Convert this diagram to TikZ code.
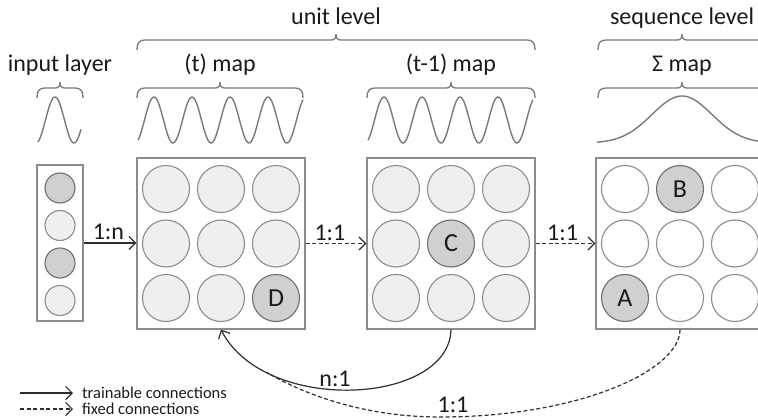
\documentclass[tikz,border=0pt]{standalone}
\usepackage{fontspec}
\setmainfont{Carlito}
\usetikzlibrary{arrows.meta}
\definecolor{linegray}{HTML}{8C8C8C}
\definecolor{lightfill}{HTML}{EFEFEF}
\definecolor{darkfill}{HTML}{D0D0D0}
\definecolor{darkedge}{HTML}{6E6E6E}
\definecolor{arrowcol}{HTML}{2E2E2E}
\definecolor{txt}{HTML}{1A1A1A}
\definecolor{wavecol}{HTML}{7A7A7A}
\newcommand\mybrace[4]{%
 \draw[bracket] (#1,#3+10) .. controls (#1,#3+3) and (#1+2,#3) .. (#1+8,#3) -- (#4-5,#3) .. controls (#4-1,#3) and (#4,#3-2) .. (#4,#3-6) .. controls (#4,#3-2) and (#4+1,#3) .. (#4+5,#3) -- (#2-8,#3) .. controls (#2-2,#3) and (#2,#3+3) .. (#2,#3+10);}
\begin{document}
\begin{tikzpicture}[x=1pt,y=-1pt,
  mapbox/.style={draw=linegray, line width=1.4pt, fill=white, minimum width=168pt, minimum height=171pt, inner sep=0pt},
  inbox/.style={draw=linegray, line width=1.4pt, fill=white, minimum width=46pt, minimum height=156pt, inner sep=0pt},
  cell/.style={circle, draw=linegray, line width=1.1pt, fill=lightfill, minimum size=47pt, inner sep=0pt, font=\fontsize{26}{26}\selectfont, text=txt},
  cellw/.style={cell, fill=white},
  celld/.style={cell, fill=darkfill, draw=darkedge},
  incell/.style={cell, minimum size=30pt},
  incelld/.style={celld, minimum size=30pt},
  trainconn/.style={draw=arrowcol, line width=1.2pt, -{Straight Barb[length=6.5pt,width=13pt]}},
  fixedconn/.style={trainconn, dash pattern=on 4pt off 2.5pt},
  lbl/.style={font=\fontsize{24}{24}\selectfont, text=txt, inner sep=2.5pt},
  headtext/.style={font=\fontsize{24}{24}\selectfont, text=txt, anchor=base, inner sep=0pt},
  legtext/.style={font=\fontsize{16.5}{16.5}\selectfont, text=txt, anchor=west, inner sep=0pt},
  wavepath/.style={draw=wavecol, line width=1.4pt},
  bracket/.style={draw=wavecol, line width=1.3pt}
]
\useasboundingbox (0,0) rectangle (758,420);
\clip (0,0) rectangle (758,420);

% headings
\node[headtext] (hunit) at (336,25) {unit level};
\node[headtext] (hseq) at (682,25) {sequence level};
\node[headtext] (hin) at (60,72) {input layer};
\node[headtext] (ht) at (220,72) {(t) map};
\node[headtext] (ht1) at (451,72) {(t-1) map};
\node[headtext] (hs) at (682,72) {Σ map};

% braces
\mybrace{137}{535}{40}{336}
\mybrace{598}{766}{40}{682}
\mybrace{37}{83}{88}{60}
\mybrace{137}{303}{88}{220}
\mybrace{367}{535}{88}{451}
\mybrace{598}{766}{88}{682}

% waves
\draw[wavepath] plot[domain=38:81, samples=60, smooth] (\x, {120+23*cos((\x-36)/38*360)});
\draw[wavepath] plot[domain=138:303, samples=160, smooth] (\x, {120+23*cos((\x-135)/38*360)});
\draw[wavepath] plot[domain=368:533, samples=160, smooth] (\x, {120+23*cos((\x-365)/38*360)});
\draw[wavepath] plot[domain=597:758, samples=100, smooth] (\x, {143-47*exp(-0.5*((\x-682)/30)^2)});

% boxes
\node[inbox] (inbox) at (60,243) {};
\node[mapbox] (tbox) at (221,243.5) {};
\node[mapbox] (t1box) at (451,243.5) {};
\node[mapbox] (sbox) at (680,243.5) {};

% input cells
\node[incelld] (i1) at (60,188) {};
\node[incell] (i2) at (60,225.5) {};
\node[incelld] (i3) at (60,263) {};
\node[incell] (i4) at (60,300.5) {};

% (t) map cells
\node[cell] (t11) at (166,189) {};
\node[cell] (t12) at (221,189) {};
\node[cell] (t13) at (276,189) {};
\node[cell] (t21) at (166,243.5) {};
\node[cell] (t22) at (221,243.5) {};
\node[cell] (t23) at (276,243.5) {};
\node[cell] (t31) at (166,298) {};
\node[cell] (t32) at (221,298) {};
\node[celld] (t33) at (276,298) {D};

% (t-1) map cells
\node[cell] (u11) at (396,189) {};
\node[cell] (u12) at (451,189) {};
\node[cell] (u13) at (506,189) {};
\node[cell] (u21) at (396,243.5) {};
\node[celld] (u22) at (451,243.5) {C};
\node[cell] (u23) at (506,243.5) {};
\node[cell] (u31) at (396,298) {};
\node[cell] (u32) at (451,298) {};
\node[cell] (u33) at (506,298) {};

% sigma map cells
\node[cellw] (s11) at (625,189) {};
\node[celld] (s12) at (680,189) {B};
\node[cellw] (s13) at (735,189) {};
\node[cellw] (s21) at (625,243.5) {};
\node[cellw] (s22) at (680,243.5) {};
\node[cellw] (s23) at (735,243.5) {};
\node[celld] (s31) at (625,298) {A};
\node[cellw] (s32) at (680,298) {};
\node[cellw] (s33) at (735,298) {};

% connections between maps
\draw[trainconn] (inbox.east) -- node[lbl, above, pos=0.47] (l1n) {1:n} (inbox.east -| tbox.west);
\draw[fixedconn] (tbox.east) -- node[lbl, above, pos=0.4] (l11a) {1:1} (t1box.west);
\draw[fixedconn] (t1box.east) -- node[lbl, above, pos=0.45] (l11b) {1:1} (sbox.west);

% recurrent connections
\draw[trainconn] (t1box.south) .. controls (449,405) and (265,415) .. coordinate[pos=0.78] (join) (tbox.south);
\draw[fixedconn, -] (sbox.south) .. controls (680,370) and (580,417) .. (440,417) .. controls (360,417) and (300,392) .. (join);
\node[lbl, anchor=south] (ln1) at (335,389) {n:1};
\node[lbl, anchor=south] (l11c) at (453,415) {1:1};

% legend
\coordinate (la1) at (20,393);
\coordinate (lb1) at (73,393);
\coordinate (la2) at (20,409);
\coordinate (lb2) at (73,409);
\draw[trainconn] (la1) -- (lb1);
\draw[fixedconn] (la2) -- (lb2);
\node[legtext] (lt1) at (82,393) {trainable connections};
\node[legtext] (lt2) at (82,409) {fixed connections};
\end{tikzpicture}
\end{document}
